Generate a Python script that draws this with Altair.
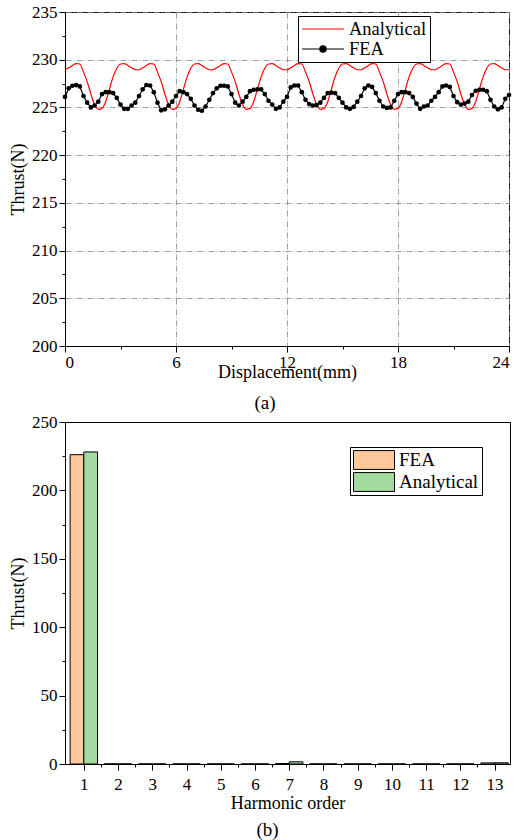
import altair as alt
import pandas as pd

FONT = "Liberation Serif"

# ---------------- (a) thrust vs displacement ----------------
disp_mm = [0.0, 0.2, 0.4, 0.6, 0.8, 1.0, 1.2, 1.4, 1.6, 1.8, 2.0, 2.2, 2.4, 2.6, 2.8, 3.0, 3.2, 3.4, 3.6, 3.8,
           4.0, 4.2, 4.4, 4.6, 4.8, 5.0, 5.2, 5.4, 5.6, 5.8, 6.0, 6.2, 6.4, 6.6, 6.8, 7.0, 7.2, 7.4, 7.6, 7.8,
           8.0, 8.2, 8.4, 8.6, 8.8, 9.0, 9.2, 9.4, 9.6, 9.8, 10.0, 10.2, 10.4, 10.6, 10.8, 11.0, 11.2, 11.4, 11.6, 11.8,
           12.0, 12.2, 12.4, 12.6, 12.8, 13.0, 13.2, 13.4, 13.6, 13.8, 14.0, 14.2, 14.4, 14.6, 14.8, 15.0, 15.2, 15.4, 15.6, 15.8,
           16.0, 16.2, 16.4, 16.6, 16.8, 17.0, 17.2, 17.4, 17.6, 17.8, 18.0, 18.2, 18.4, 18.6, 18.8, 19.0, 19.2, 19.4, 19.6, 19.8,
           20.0, 20.2, 20.4, 20.6, 20.8, 21.0, 21.2, 21.4, 21.6, 21.8, 22.0, 22.2, 22.4, 22.6, 22.8, 23.0, 23.2, 23.4, 23.6, 23.8,
           24.0]

analytical = [228.95, 229.15, 229.4, 229.6, 229.55, 228.7, 227.7, 226.4, 225.3, 224.8, 224.9, 225.6, 226.9, 228.2, 229.1, 229.55, 229.6, 229.4, 229.15, 228.95,
              228.95, 229.15, 229.4, 229.6, 229.55, 228.7, 227.7, 226.4, 225.3, 224.8, 224.9, 225.6, 226.9, 228.2, 229.1, 229.55, 229.6, 229.4, 229.15, 228.95,
              228.95, 229.15, 229.4, 229.6, 229.55, 228.7, 227.7, 226.4, 225.3, 224.8, 224.9, 225.6, 226.9, 228.2, 229.1, 229.55, 229.6, 229.4, 229.15, 228.95,
              228.95, 229.15, 229.4, 229.6, 229.55, 228.7, 227.7, 226.4, 225.3, 224.8, 224.9, 225.6, 226.9, 228.2, 229.1, 229.55, 229.6, 229.4, 229.15, 228.95,
              228.95, 229.15, 229.4, 229.6, 229.55, 228.7, 227.7, 226.4, 225.3, 224.8, 224.9, 225.6, 226.9, 228.2, 229.1, 229.55, 229.6, 229.4, 229.15, 228.95,
              228.95, 229.15, 229.4, 229.6, 229.55, 228.7, 227.7, 226.4, 225.3, 224.8, 224.9, 225.6, 226.9, 228.2, 229.1, 229.55, 229.6, 229.4, 229.15, 228.95,
              228.95]

fea = [226.1, 227.0, 227.27, 227.34, 227.2, 226.2, 225.5, 225.0, 225.2, 225.6, 226.4, 226.6, 226.6, 226.5, 226.0, 225.3, 224.85, 224.85, 225.2, 225.5,
       226.2, 226.9, 227.35, 227.3, 226.6, 225.5, 224.7, 224.8, 225.2, 225.6, 226.2, 226.7, 226.6, 226.4, 225.9, 225.2, 224.75, 224.65, 225.1, 225.8,
       226.5, 227.0, 227.27, 227.27, 227.2, 226.4, 225.5, 225.2, 225.6, 226.1, 226.7, 226.85, 226.9, 226.9, 226.4, 225.7, 225.3, 224.85, 225.0, 225.6,
       226.1, 227.1, 227.3, 227.3, 226.6, 225.8, 225.35, 225.2, 225.25, 225.5, 226.0, 226.5, 226.55, 226.5, 226.0, 225.5, 225.0, 224.85, 225.05, 225.6,
       226.2, 227.0, 227.3, 227.15, 226.5, 225.7, 225.1, 224.95, 225.0, 225.7, 226.4, 226.6, 226.6, 226.5, 226.1, 225.4, 224.85, 225.1, 225.2, 225.7,
       226.1, 226.6, 227.2, 227.3, 227.15, 226.2, 225.55, 225.3, 225.4, 225.6, 226.3, 226.75, 226.85, 226.85, 226.7, 225.8, 225.1, 224.8, 225.0, 225.9,
       226.3]

x_ticks_a = [0, 6, 12, 18, 24]
x_minor_a = [3, 9, 15, 21]
y_ticks_a = [200, 205, 210, 215, 220, 225, 230, 235]
y_minor_a = [202.5, 207.5, 212.5, 217.5, 222.5, 227.5, 232.5]

series_a = ["Analytical", "FEA"]
colors_a = ["#FF0000", "#000000"]

df_a = pd.DataFrame({
    "x": disp_mm + disp_mm,
    "y": analytical + fea,
    "series": ["Analytical"] * len(analytical) + ["FEA"] * len(fea),
})

LINE_SYMBOL = "M-1,0L1,0"
FEA_SYMBOL = "M-1,0L1,0M0.15,0A0.15,0.15,0,1,1,-0.15,0A0.15,0.15,0,1,1,0.15,0Z"

legend_a = alt.Legend(
    title=None, orient="none", legendX=233, legendY=4,
    labelFont=FONT, labelFontSize=18.5, labelColor="black", labelOffset=4,
    symbolSize=1750, symbolStrokeWidth=1.2, symbolOpacity=1,
    strokeColor="black", fillColor="white", padding=3, rowPadding=0, clipHeight=20,
)

color_a = alt.Color("series:N", scale=alt.Scale(domain=series_a, range=colors_a), legend=legend_a)
shape_a = alt.Shape("series:N", scale=alt.Scale(domain=series_a, range=[LINE_SYMBOL, FEA_SYMBOL]),
                    legend=legend_a)

x_scale_a = alt.Scale(domain=[0, 24], nice=False)
y_scale_a = alt.Scale(domain=[200, 235], nice=False, zero=False)

x_a = alt.X("x:Q", scale=x_scale_a,
            axis=alt.Axis(values=x_ticks_a, title="Displacement(mm)", grid=True,
                          titlePadding=-7, orient="bottom"))
y_a = alt.Y("y:Q", scale=y_scale_a,
            axis=alt.Axis(values=y_ticks_a, title="Thrust(N)", grid=True, orient="left"))

base_a = alt.Chart(df_a).encode(x=x_a, y=y_a, color=color_a)

line_ana = base_a.transform_filter(alt.datum.series == "Analytical").mark_line(
    strokeWidth=1.2, interpolate="monotone")
line_fea = base_a.transform_filter(alt.datum.series == "FEA").mark_line(strokeWidth=1.2)
pts_fea = base_a.transform_filter(alt.datum.series == "FEA").mark_circle(size=22, opacity=1)
# carries only the legend glyph shapes; draws nothing
legend_glyphs = base_a.transform_filter("false").mark_point(filled=True, opacity=1).encode(shape=shape_a)
# minor ticks only; draws nothing
minor_a = alt.Chart(df_a).transform_filter("false").mark_point(opacity=0).encode(
    x=alt.X("x:Q", scale=x_scale_a,
            axis=alt.Axis(values=x_minor_a, title=None, labels=False, domain=False, grid=False,
                          tickSize=3, orient="bottom")),
    y=alt.Y("y:Q", scale=y_scale_a,
            axis=alt.Axis(values=y_minor_a, title=None, labels=False, domain=False, grid=False,
                          tickSize=3, orient="left")),
)

main_a = alt.layer(line_ana, line_fea, pts_fea, legend_glyphs)

chart_a = alt.layer(main_a, minor_a).resolve_axis(
    x="independent", y="independent"
).properties(
    width=444, height=334,
    title=alt.TitleParams("(a)", orient="bottom", anchor="middle", dx=-22,
                          font=FONT, fontSize=19, fontWeight="normal", offset=13),
)

# ---------------- (b) harmonic spectrum ----------------
orders = [1, 2, 3, 4, 5, 6, 7, 8, 9, 10, 11, 12, 13]
order_minor = [1.5, 2.5, 3.5, 4.5, 5.5, 6.5, 7.5, 8.5, 9.5, 10.5, 11.5, 12.5]
y_ticks_b = [0, 50, 100, 150, 200, 250]
y_minor_b = [25, 75, 125, 175, 225]
fea_harm = [226.1, 0.1, 0.05, 0.05, 0.05, 0.05, 0.3, 0.05, 0.05, 0.05, 0.05, 0.05, 0.8]
ana_harm = [228.1, 0.05, 0.05, 0.05, 0.05, 0.05, 1.6, 0.05, 0.05, 0.05, 0.05, 0.05, 0.9]
series_b = ["FEA", "Analytical"]
colors_b = ["#FDC99B", "#A3DAA0"]

df_b = pd.DataFrame({
    "order": orders + orders,
    "value": fea_harm + ana_harm,
    "series": ["FEA"] * len(orders) + ["Analytical"] * len(orders),
})

BOX = "M-1,-0.46L1,-0.46L1,0.46L-1,0.46Z"

x_scale_b = alt.Scale(domain=[0.45, 13.45], nice=False, zero=False)
y_scale_b = alt.Scale(domain=[0, 250], nice=False)

base_b = alt.Chart(df_b).transform_calculate(
    x0="datum.series === 'FEA' ? datum.order - 0.4 : datum.order",
    x1="datum.series === 'FEA' ? datum.order : datum.order + 0.4",
)

bars_b = base_b.mark_rect(stroke="black", strokeWidth=1).encode(
    x=alt.X("x0:Q", scale=x_scale_b,
            axis=alt.Axis(values=orders, title="Harmonic order", titlePadding=2,
                          labelPadding=6, grid=False, orient="bottom")),
    x2="x1:Q",
    y=alt.Y("value:Q", scale=y_scale_b,
            axis=alt.Axis(values=y_ticks_b, title="Thrust(N)", grid=False, orient="left")),
    y2=alt.datum(0),
    color=alt.Color("series:N", scale=alt.Scale(domain=series_b, range=colors_b),
                    legend=alt.Legend(
                        title=None, orient="none", legendX=285, legendY=25,
                        labelFont=FONT, labelFontSize=19, labelColor="black", labelOffset=4,
                        symbolType=BOX, symbolSize=1681, symbolStrokeColor="black",
                        symbolStrokeWidth=1, symbolOpacity=1,
                        strokeColor="black", fillColor="white", padding=3, rowPadding=2,
                        clipHeight=20,
                    )),
)

minor_b = base_b.transform_filter("false").mark_point(opacity=0).encode(
    x=alt.X("x0:Q", scale=x_scale_b,
            axis=alt.Axis(values=order_minor, title=None, labels=False, domain=False, grid=False,
                          tickSize=3, orient="bottom")),
    y=alt.Y("value:Q", scale=y_scale_b,
            axis=alt.Axis(values=y_minor_b, title=None, labels=False, domain=False, grid=False,
                          tickSize=3, orient="left")),
)

chart_b = alt.layer(bars_b, minor_b).resolve_axis(
    x="independent", y="independent"
).properties(
    width=445, height=342,
    title=alt.TitleParams("(b)", orient="bottom", anchor="middle", dx=-20,
                          font=FONT, fontSize=19, fontWeight="normal", offset=9),
)

chart = alt.vconcat(chart_a, chart_b, spacing=-2).resolve_scale(
    color="independent", shape="independent"
).configure(
    font=FONT,
    padding={"left": 9, "top": 2, "right": 5, "bottom": 2},
).configure_view(
    stroke="black", strokeWidth=1,
).configure_axis(
    labelFont=FONT, labelFontSize=17, labelColor="black",
    titleFont=FONT, titleFontSize=18, titleFontWeight="normal", titleColor="black",
    domainColor="black", tickColor="black", tickSize=6, labelPadding=2,
    gridColor="#888888", gridDash=[6, 2, 1, 2], gridWidth=0.8,
).configure_legend(
    labelFont=FONT,
)

chart.save("out.html", embed_options={"renderer": "svg", "actions": False})
